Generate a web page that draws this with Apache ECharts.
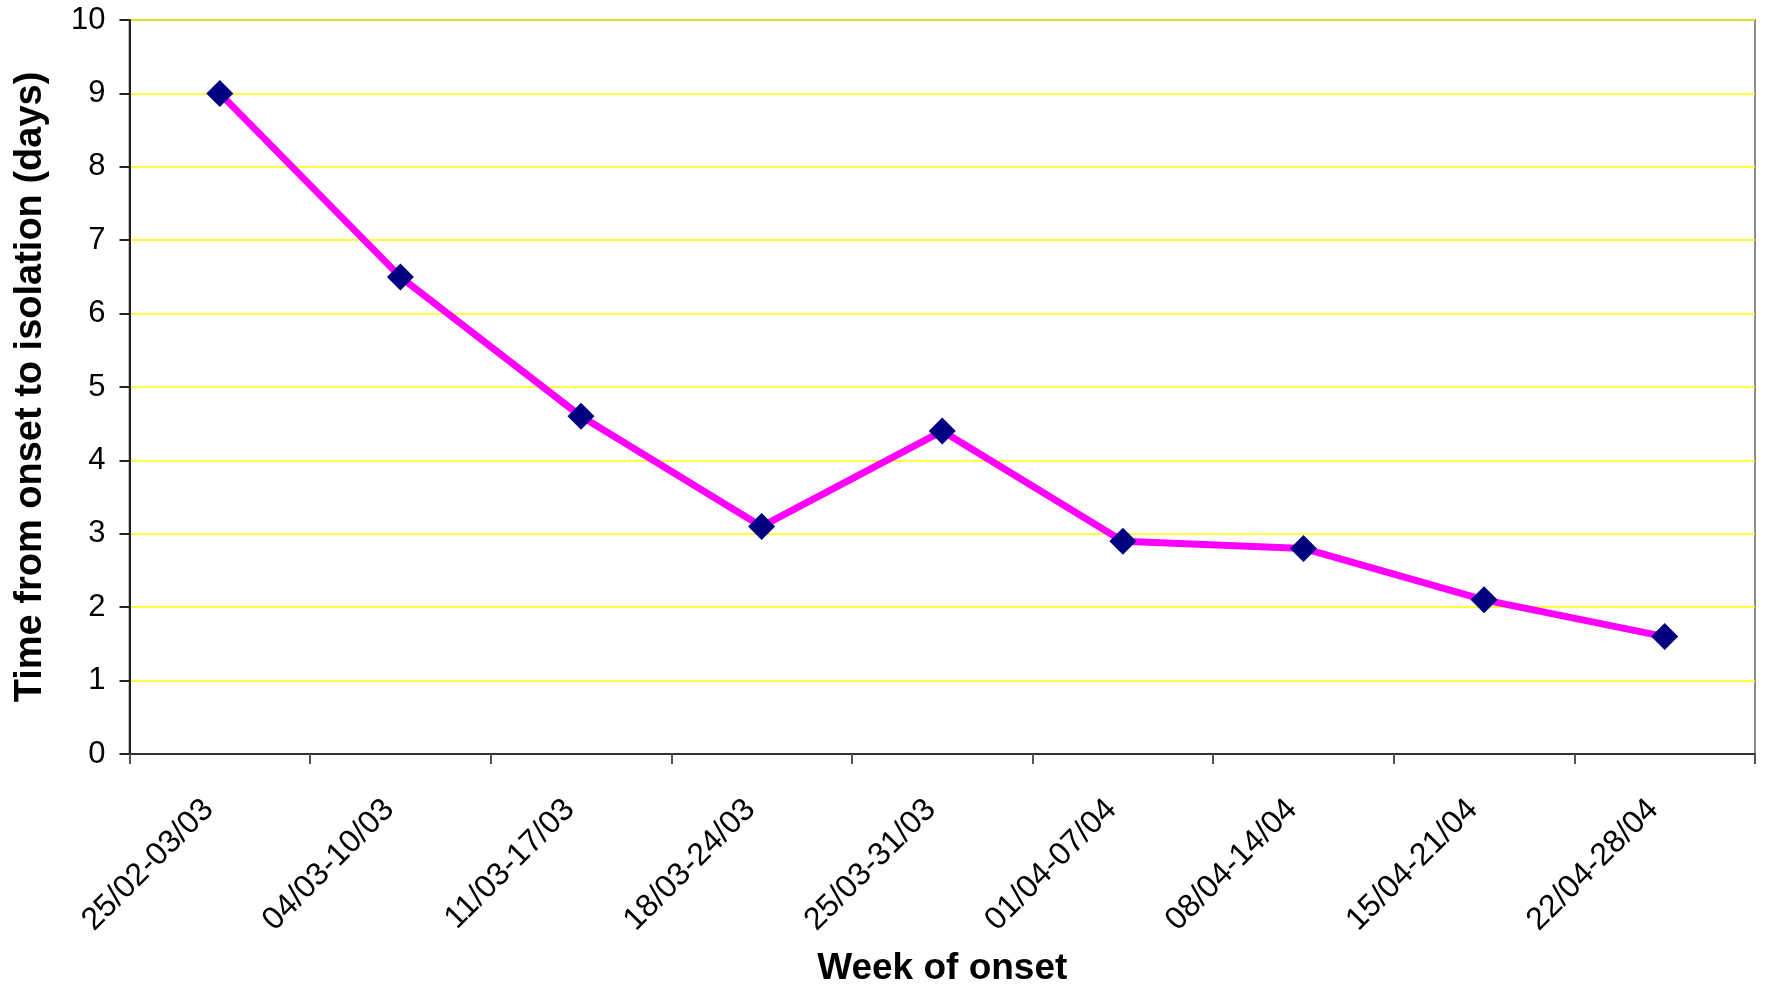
<!DOCTYPE html>
<html>
<head>
<meta charset="utf-8">
<script src="https://cdn.jsdelivr.net/npm/echarts@6/dist/echarts.min.js"></script>
<style>
  html, body { margin: 0; padding: 0; background: #fff; }
  #chart { width: 1767px; height: 987px; }
</style>
</head>
<body>
<div id="chart"></div>
<script>
// Weekly mean time from symptom onset to isolation
const weeks = [
  '25/02-03/03', '04/03-10/03', '11/03-17/03', '18/03-24/03', '25/03-31/03',
  '01/04-07/04', '08/04-14/04', '15/04-21/04', '22/04-28/04'
];
const daysToIsolation = [9, 6.5, 4.6, 3.1, 4.4, 2.9, 2.8, 2.1, 1.6];
const yTicks = [0, 1, 2, 3, 4, 5, 6, 7, 8, 9, 10];

const FONT = '"Liberation Sans", Arial, sans-serif';

const chart = echarts.init(document.getElementById('chart'), null, { renderer: 'canvas' });
chart.setOption({
  animation: false,
  backgroundColor: '#ffffff',
  grid: {
    left: 129.5, right: 12, top: 20, bottom: 233,
    outerBoundsMode: 'none',
    containLabel: false,
    show: true, borderColor: '#8c8c8c', borderWidth: 2, backgroundColor: 'transparent'
  },
  xAxis: {
    type: 'category',
    data: weeks,
    boundaryGap: true,
    name: 'Week of onset',
    nameLocation: 'middle',
    nameGap: 196,
    nameTextStyle: { fontFamily: FONT, fontWeight: 'bold', fontSize: 37, color: '#000' },
    axisLine: { lineStyle: { color: '#333', width: 2 } },
    axisTick: { show: true, length: 10, inside: false, lineStyle: { color: '#555', width: 2 } },
    axisLabel: {
      rotate: 45, margin: 62, interval: 0,
      verticalAlign: 'bottom',
      fontFamily: FONT, fontSize: 32, color: '#000'
    },
    splitLine: { show: false }
  },
  yAxis: {
    type: 'value',
    min: yTicks[0],
    max: yTicks[yTicks.length - 1],
    interval: 1,
    name: 'Time from onset to isolation (days)',
    nameLocation: 'middle',
    nameGap: 80,
    nameTextStyle: { fontFamily: FONT, fontWeight: 'bold', fontSize: 38, color: '#000' },
    axisLine: { show: true, lineStyle: { color: '#222', width: 2 } },
    axisTick: { show: true, length: 10, inside: false, lineStyle: { color: '#222', width: 2 } },
    axisLabel: { margin: 24, fontFamily: FONT, fontSize: 31, color: '#000' },
    splitLine: { show: true, lineStyle: { color: '#ffff00', width: 1.5 } }
  },
  series: [{
    type: 'line',
    data: daysToIsolation,
    symbol: 'diamond',
    symbolSize: 27,
    showAllSymbol: true,
    lineStyle: { color: '#ff00ff', width: 7 },
    itemStyle: { color: '#000080', borderWidth: 0 },
    z: 3
  }]
});
</script>
</body>
</html>
